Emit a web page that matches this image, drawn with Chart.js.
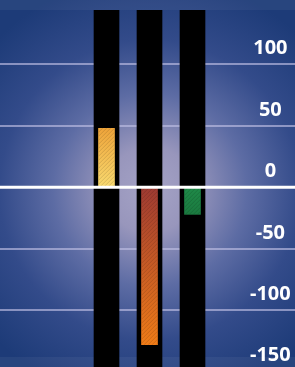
<!DOCTYPE html>
<html>
<head>
<meta charset="utf-8">
<script src="https://cdn.jsdelivr.net/npm/chart.js@4"></script>
<style>
  html, body { margin: 0; padding: 0; background: #1e3c78; overflow: hidden; }
  #wrap { width: 295px; height: 367px; position: relative; }
</style>
</head>
<body>
<div id="wrap"><canvas id="chart"></canvas></div>
<script>
// chart data
const categories = ['1', '2', '3'];
const values = [48, -128, -22];
const trackRange = [-150, 144];
const tickValues = [-150, -100, -50, 0, 50, 100];

const barTop = ['#eea43a', '#9e3a32', '#1f8a48'];
const barBottom = ['#f9da70', '#f07c18', '#1b7a40'];

// radial background + light bands top and bottom
const backdrop = {
    id: 'backdrop',
    beforeDraw(chart) {
        const { ctx, width, height } = chart;
        ctx.save();
        const g = ctx.createRadialGradient(150, 190, 0, 150, 190, 215);
        g.addColorStop(0, '#a5a3c6');
        g.addColorStop(0.2, '#9896bc');
        g.addColorStop(0.45, '#5d6ca4');
        g.addColorStop(0.7, '#334b8a');
        g.addColorStop(1, '#1d3b78');
        ctx.fillStyle = g;
        ctx.fillRect(0, 0, width, height);
        ctx.fillStyle = 'rgba(255,255,255,0.05)';
        ctx.fillRect(0, 0, width, 10);
        ctx.fillRect(0, height - 10, width, 10);
        ctx.restore();
    }
};

// grid lines across the whole width, under the bars
const fullGrid = {
    id: 'fullGrid',
    beforeDatasetsDraw(chart) {
        const { ctx, width } = chart;
        const y = chart.scales.y;
        ctx.save();
        ctx.strokeStyle = 'rgba(190,190,228,0.65)';
        ctx.lineWidth = 2;
        y.ticks.forEach(t => {
            if (t.value === 0) return;
            const py = Math.round(y.getPixelForValue(t.value));
            ctx.beginPath();
            ctx.moveTo(0, py);
            ctx.lineTo(width, py);
            ctx.stroke();
        });
        ctx.restore();
    },
    afterDatasetsDraw(chart) {
        const { ctx, width } = chart;
        const y = chart.scales.y;
        // hatch on the coloured bars
        const meta = chart.getDatasetMeta(0);
        ctx.save();
        meta.data.forEach(bar => {
            const top = Math.min(bar.y, bar.base), bottom = Math.max(bar.y, bar.base);
            const left = bar.x - bar.width / 2;
            ctx.save();
            ctx.beginPath();
            ctx.rect(left, top, bar.width, bottom - top);
            ctx.clip();
            ctx.strokeStyle = 'rgba(0,0,0,0.13)';
            ctx.lineWidth = 1;
            for (let k = -40; k < bottom - top + 40; k += 4) {
                ctx.beginPath();
                ctx.moveTo(left, top + k + bar.width);
                ctx.lineTo(left + bar.width, top + k);
                ctx.stroke();
            }
            ctx.restore();
        });
        // zero line on top
        const z = y.getPixelForValue(0);
        ctx.strokeStyle = '#ffffff';
        ctx.lineWidth = 3;
        ctx.beginPath();
        ctx.moveTo(0, z);
        ctx.lineTo(width, z);
        ctx.stroke();
        ctx.restore();
    }
};

new Chart(document.getElementById('chart'), {
    type: 'bar',
    data: {
        labels: categories,
        datasets: [{
            data: values,
            barThickness: 16,
            grouped: false,
            backgroundColor(c) {
                const chart = c.chart;
                const i = c.dataIndex;
                if (!chart.chartArea) return barTop[i];
                const y = chart.scales.y;
                const y0 = y.getPixelForValue(0), y1 = y.getPixelForValue(values[i]);
                const g = chart.ctx.createLinearGradient(0, Math.min(y0, y1), 0, Math.max(y0, y1));
                g.addColorStop(0, barTop[i]);
                g.addColorStop(1, barBottom[i]);
                return g;
            }
        }, {
            data: categories.map(() => trackRange),
            barThickness: 25,
            grouped: false,
            backgroundColor: '#000000'
        }]
    },
    options: {
        responsive: true,
        maintainAspectRatio: false,
        animation: false,
        layout: { padding: { left: 85, right: 0, top: 0, bottom: 0 } },
        plugins: { legend: { display: false }, tooltip: { enabled: false } },
        scales: {
            x: { display: false },
            y: {
                position: 'right',
                min: -146.1,
                max: 152.3,
                afterBuildTicks(scale) {
                    scale.ticks = tickValues.map(v => ({ value: v }));
                },
                afterFit(scale) {
                    scale.width = 81;
                    scale.paddingTop = 0;
                    scale.paddingBottom = 0;
                },
                grid: { display: false, drawTicks: false },
                border: { display: false },
                ticks: {
                    color: '#ffffff',
                    font: { family: 'Open Sans', size: 20, weight: 'bold' },
                    crossAlign: 'center',
                    padding: 36,
                    labelOffset: -16
                }
            }
        }
    },
    plugins: [backdrop, fullGrid]
});
</script>
</body>
</html>
